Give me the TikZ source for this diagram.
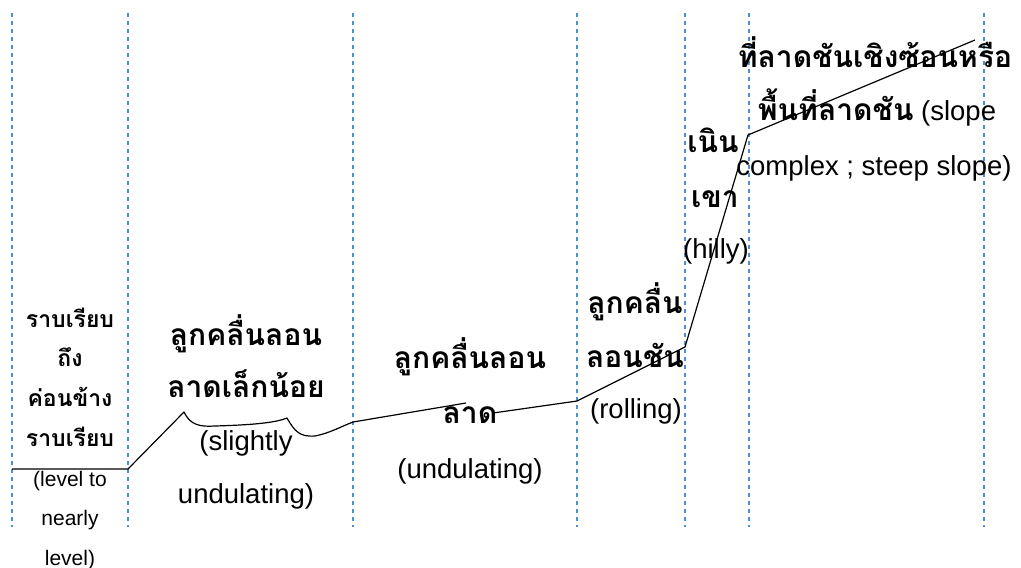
\documentclass[tikz,border=0pt]{standalone}
\usepackage{fontspec}
\setmainfont{Liberation Sans}
\newfontfamily\thai[Script=Thai]{Loma}
\definecolor{guide}{HTML}{4A90D9}
\newcommand{\thaibig}{\thai\bfseries\fontsize{30}{36}\selectfont}
\tikzset{
  guideline/.style={guide, line width=1.2pt, dash pattern=on 4pt off 4pt},
  profile/.style={black, line width=1.2pt, line join=round},
  tline/.style={anchor=base, inner sep=0pt, font=\thaibig},
  eline/.style={anchor=base, inner sep=0pt, font=\fontsize{27.5}{32}\selectfont},
  tsmall/.style={anchor=base, inner sep=0pt, font=\thai\bfseries\fontsize{23}{27}\selectfont},
  esmall/.style={anchor=base, inner sep=0pt, font=\fontsize{21}{25}\selectfont},
}
\begin{document}
\begin{tikzpicture}[x=1pt,y=-1pt]
\useasboundingbox (0,0) rectangle (1021,568);
% guide lines
\foreach \gx [count=\i] in {12,128,353,577,685,749,984}{
  \coordinate (gt\i) at (\gx,13);
  \coordinate (gb\i) at (\gx,527);
  \draw[guideline] (gt\i) -- (gb\i);
}
% profile
\coordinate (p0) at (12,469);
\coordinate (p1) at (128,469);
\coordinate (p2) at (184,412);
\coordinate (p3) at (353,422);
\coordinate (p4) at (466,403);
\coordinate (p5) at (493,413);
\coordinate (p6) at (577,401);
\coordinate (p7) at (685,347);
\coordinate (p8) at (748,135);
\coordinate (p9) at (975,40);
\draw[profile] (p0) -- (p1) -- (p2)
  .. controls (190,425) and (200,427) .. (215,426)
  .. controls (250,425) and (275,423) .. (287,418)
  .. controls (295,432) and (300,437) .. (315,436)
  .. controls (330,433) and (340,427) .. (p3) -- (p4);
\draw[profile] (p5) -- (p6) -- (p7) -- (p8) -- (p9);
% label 1
\node[tsmall] (a1) at (70,327) {ราบเรียบ};
\node[tsmall] (a2) at (70,366) {ถึง};
\node[tsmall] (a3) at (70,406) {ค่อนข้าง};
\node[tsmall] (a4) at (70,446) {ราบเรียบ};
\node[esmall] (a5) at (70,486) {(level to};
\node[esmall] (a6) at (70,525) {nearly};
\node[esmall] (a7) at (70,565) {level)};
% label 2
\node[tline] (b1) at (246,345) {ลูกคลื่นลอน};
\node[tline] (b2) at (246,397) {ลาดเล็กน้อย};
\node[eline] (b3) at (246,450) {(slightly};
\node[eline] (b4) at (246,503) {undulating)};
% label 3
\node[tline] (c1) at (470,368) {ลูกคลื่นลอน};
\node[tline] (c2) at (470,423) {ลาด};
\node[eline] (c3) at (470,478) {(undulating)};
% label 4
\node[tline] (d1) at (635,313) {ลูกคลื่น};
\node[tline] (d2) at (635,367) {ลอนชัน};
\node[eline] (d3) at (636,418) {(rolling)};
% label 5
\node[tline] (e1) at (713,152) {เนิน};
\node[tline] (e2) at (715,207) {เขา};
\node[eline] (e3) at (716,258) {(hilly)};
% label 6
\node[tline] (f1) at (875,67) {ที่ลาดชันเชิงซ้อนหรือ};
\node[eline] (f2) at (877,120) {{\thaibig พื้นที่ลาดชัน} (slope};
\node[eline] (f3) at (874,175) {complex ; steep slope)};
\end{tikzpicture}
\end{document}
